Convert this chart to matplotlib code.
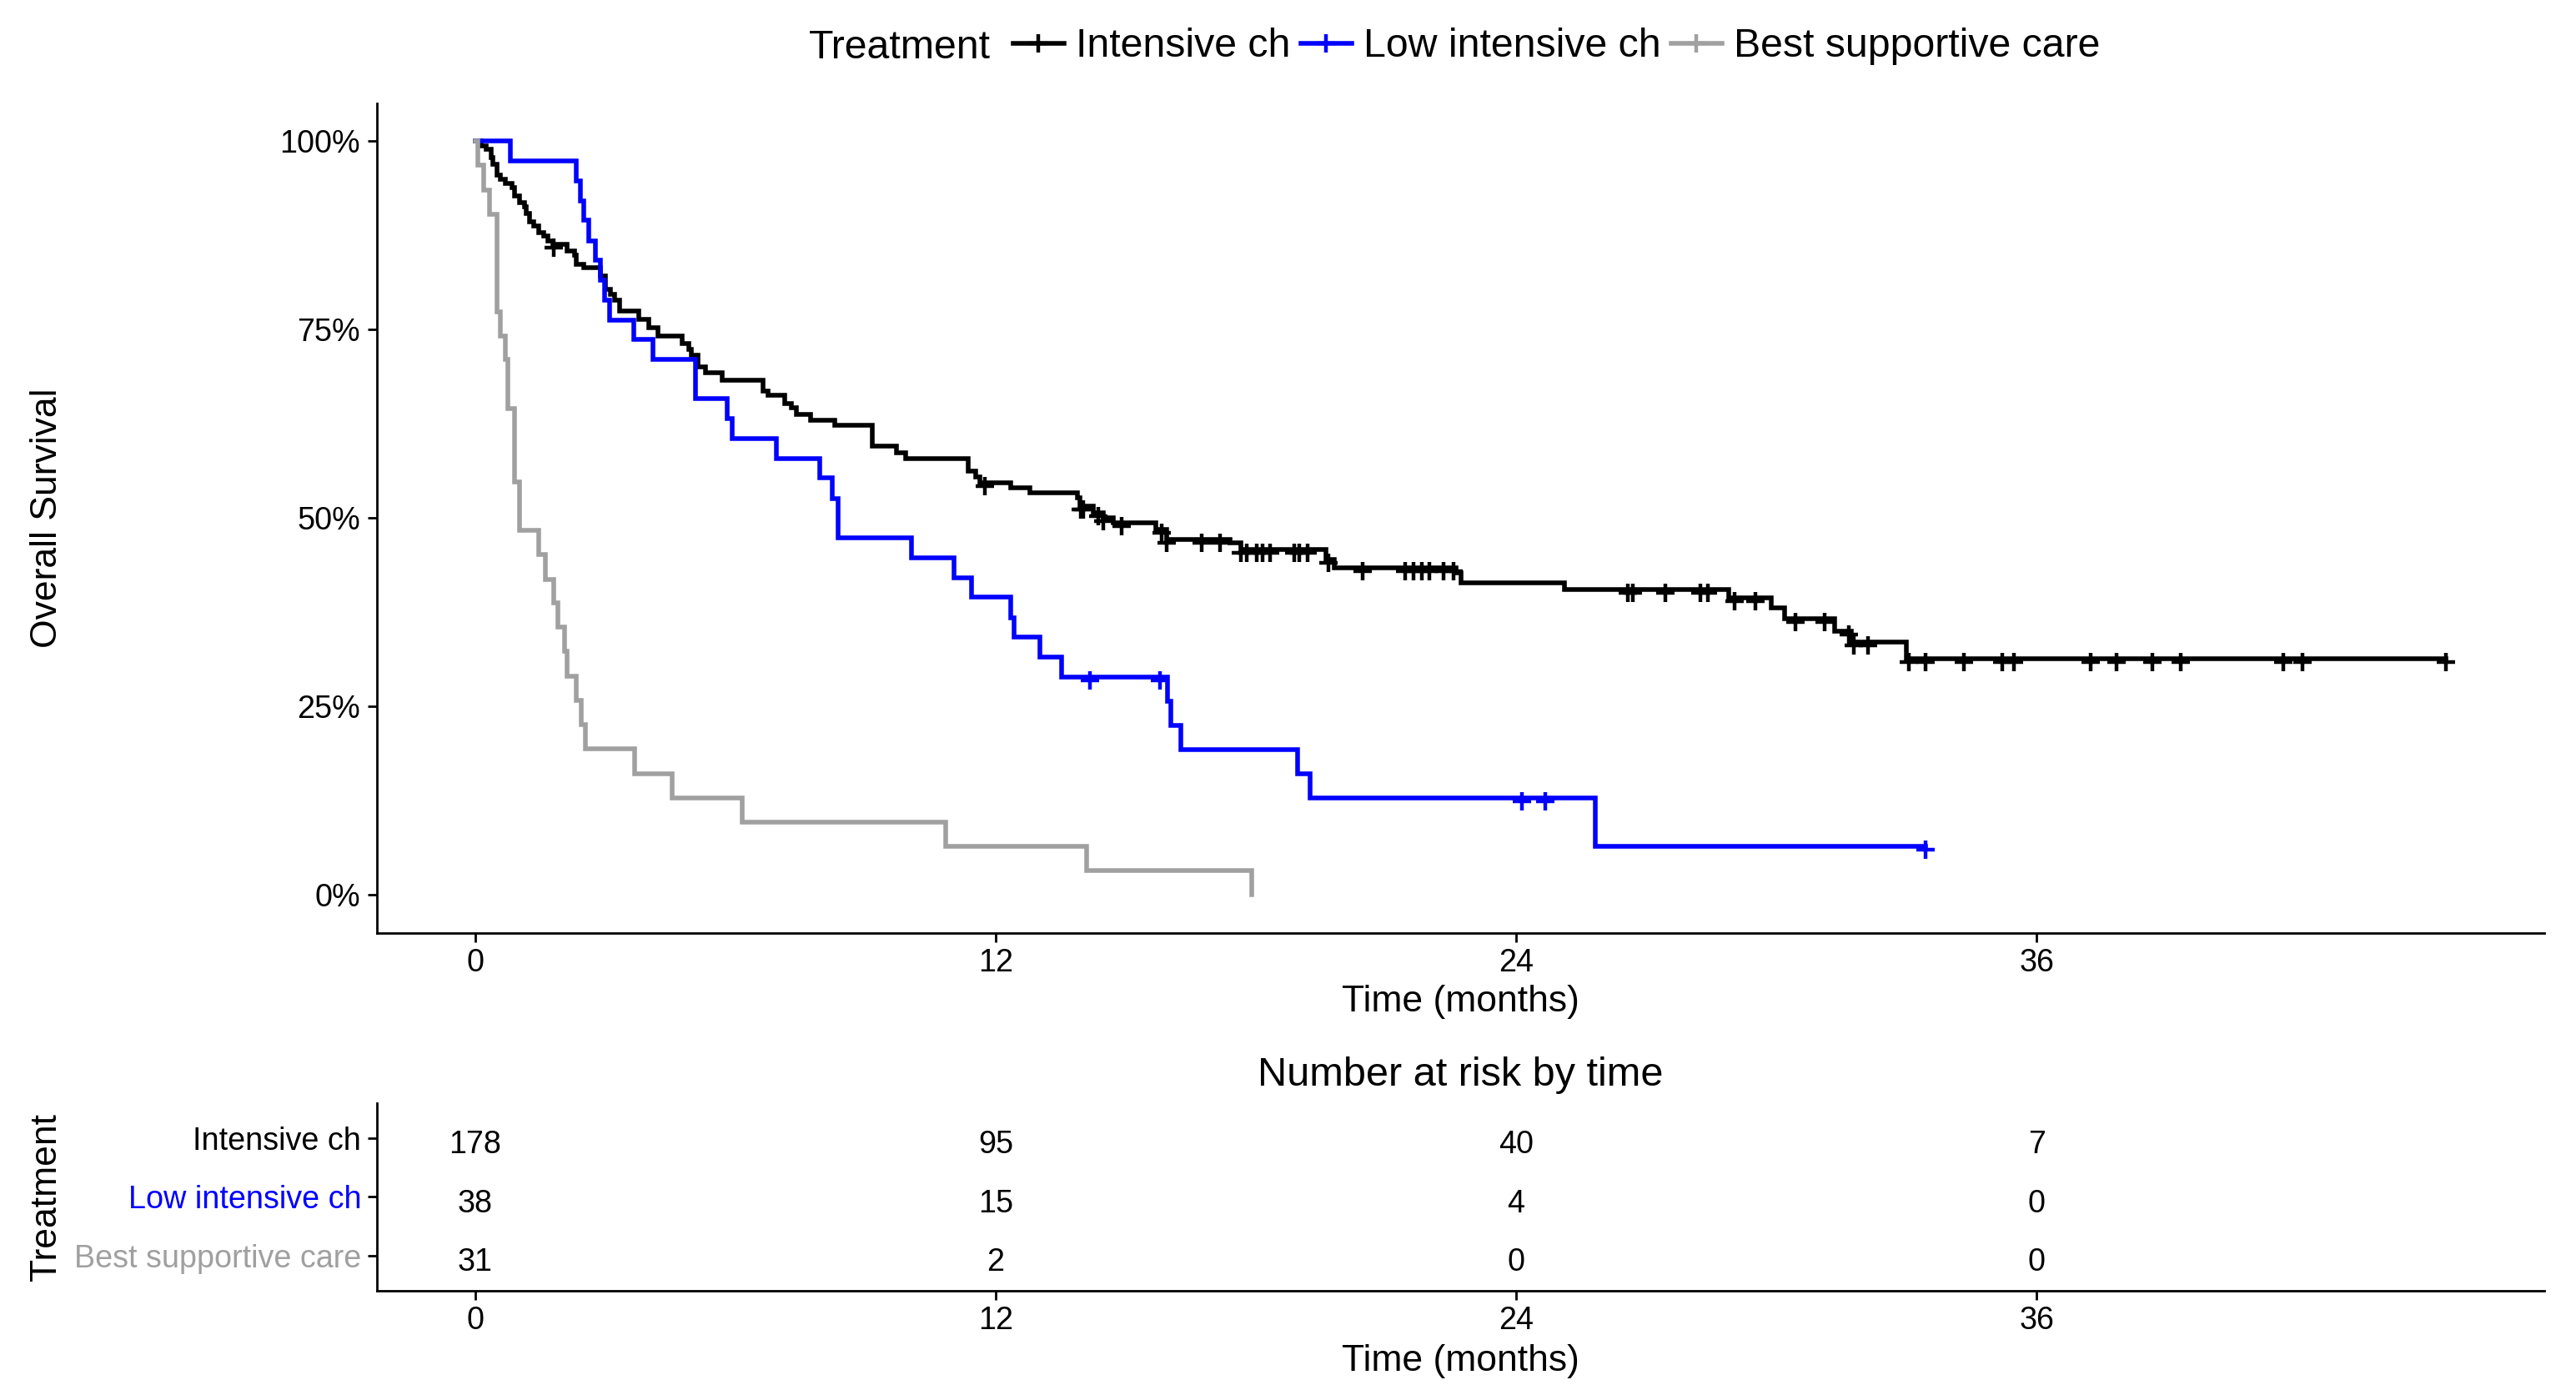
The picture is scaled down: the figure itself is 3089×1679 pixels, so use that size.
import numpy as np
import matplotlib
matplotlib.use("Agg")
import matplotlib.pyplot as plt
from matplotlib.lines import Line2D
from matplotlib.transforms import offset_copy, ScaledTranslation

plt.rcParams['font.family'] = ['Liberation Sans', 'DejaVu Sans']

# ---------------- data ----------------
groups = ["Intensive ch", "Low intensive ch", "Best supportive care"]
colors = ["#000000", "#0000FF", "#A0A0A0"]

# Intensive ch : event times (months) and survival after each event
ic_time = [0.14, 0.25, 0.36, 0.41, 0.49, 0.58, 0.69, 0.85, 0.91, 1.02, 1.13, 1.18,
           1.24, 1.35, 1.46, 1.57, 1.68, 1.79, 2.12, 2.28, 2.32, 2.50, 2.89, 3.00,
           3.11, 3.22, 3.33, 3.77, 3.99, 4.21, 4.76, 4.92, 4.98, 5.14, 5.31, 5.70,
           6.63, 6.74, 7.13, 7.29, 7.40, 7.73, 8.28, 9.16, 9.71, 9.93, 11.36, 11.53,
           11.64, 12.35, 12.79, 13.89, 13.95, 14.24, 14.48, 14.72, 15.70, 15.95,
           17.41, 17.66, 19.62, 19.80, 22.61, 22.73, 25.12, 28.90, 29.88, 30.19,
           31.35, 31.72, 32.99]
ic_surv = [0.994, 0.989, 0.978, 0.969, 0.955, 0.949, 0.944, 0.938, 0.927, 0.918, 0.913, 0.904,
           0.893, 0.887, 0.879, 0.874, 0.868, 0.863, 0.854, 0.849, 0.837, 0.832, 0.821, 0.803,
           0.797, 0.789, 0.775, 0.764, 0.753, 0.742, 0.731, 0.724, 0.716, 0.701, 0.693, 0.683,
           0.668, 0.663, 0.652, 0.646, 0.637, 0.630, 0.623, 0.596, 0.587, 0.579, 0.562, 0.555,
           0.547, 0.540, 0.533, 0.527, 0.516, 0.507, 0.500, 0.494, 0.485, 0.472,
           0.467, 0.458, 0.445, 0.434, 0.427, 0.414, 0.405, 0.394, 0.381, 0.366,
           0.350, 0.335, 0.313]
ic_cens = [1.80, 11.75, 13.97, 14.02, 14.36, 14.48, 14.91, 15.82, 15.95, 16.74, 17.17,
           17.66, 17.78, 18.02, 18.15, 18.33, 18.88, 19.00, 19.19, 19.68, 20.47, 21.45,
           21.63, 21.82, 22.00, 22.32, 22.55, 26.58, 26.70, 27.44, 28.24, 28.42, 29.03,
           29.52, 30.44, 31.11, 31.68, 31.78, 32.12, 33.06, 33.44, 34.32, 35.21, 35.48,
           37.24, 37.85, 38.67, 39.33, 41.70, 42.14, 45.44]

# Low intensive ch
lo_time = [0.80, 2.32, 2.43, 2.50, 2.61, 2.76, 2.89, 2.98, 3.09, 3.66, 4.10, 5.07,
           5.80, 5.92, 6.94, 7.95, 8.23, 8.37, 10.06, 11.03, 11.44, 12.35, 12.43,
           13.01, 13.51, 15.96, 16.04, 16.26, 18.97, 19.24, 25.83]
lo_surv = [0.974, 0.947, 0.921, 0.895, 0.868, 0.842, 0.816, 0.789, 0.763, 0.737, 0.711, 0.658,
           0.632, 0.605, 0.579, 0.553, 0.526, 0.474, 0.447, 0.421, 0.395, 0.368, 0.342,
           0.316, 0.289, 0.257, 0.225, 0.193, 0.161, 0.129, 0.064]
lo_cens = [14.17, 15.79, 24.14, 24.68, 33.44]

# Best supportive care
bs_time = [0.05, 0.19, 0.33, 0.49, 0.58, 0.69, 0.75, 0.91, 1.02, 1.46, 1.62, 1.81,
           1.90, 2.06, 2.12, 2.32, 2.45, 2.54, 3.68, 4.54, 6.16, 10.84, 14.10, 17.90]
bs_surv = [0.968, 0.935, 0.903, 0.774, 0.742, 0.710, 0.645, 0.548, 0.484, 0.452, 0.419, 0.387,
           0.355, 0.323, 0.290, 0.258, 0.226, 0.194, 0.161, 0.129, 0.097, 0.065, 0.032, 0.0]
bs_cens = []

# number at risk table
risk_times = [0, 12, 24, 36]
risk_ic = [178, 95, 40, 7]
risk_lo = [38, 15, 4, 0]
risk_bs = [31, 2, 0, 0]

x_ticks = [0, 12, 24, 36]
y_ticks = [0, 0.25, 0.5, 0.75, 1.0]
y_ticklabels = ["0%", "25%", "50%", "75%", "100%"]

# ---------------- figure ----------------
W, H = 3089, 1679
DPI = 200
fig = plt.figure(figsize=(W / DPI, H / DPI), dpi=DPI)

LW = 2.0
MS = 8
MEW = 1.6
TICK = 13.6
XMIN, XMAX = -2.27, 47.71

def fx(px):
    return px / W

def fy(py):
    return 1 - py / H

left, right = 452, 3051
top1, bot1 = 124.1, 1118.5
ax = fig.add_axes([fx(left), fy(bot1), fx(right - left), (bot1 - top1) / H])

cens_tr = offset_copy(ax.transData, fig=fig, x=0, y=-1.4, units='points')
series = [(ic_time, ic_surv, ic_cens), (lo_time, lo_surv, lo_cens), (bs_time, bs_surv, bs_cens)]
for (t, s, c), col in zip(series, colors):
    tt = np.array([0.0] + list(t))
    ss = np.array([1.0] + list(s))
    end = max(tt[-1], max(c) if c else tt[-1])
    tx = np.append(tt, end)
    sx = np.append(ss, ss[-1])
    ax.step(tx, sx, where='post', color=col, lw=LW, solid_joinstyle='miter')
    if c:
        cc = np.array(c)
        idx = np.searchsorted(tt, cc, side='right') - 1
        ax.plot(cc, ss[idx], ls='none', marker='+', color=col, ms=MS, mew=MEW,
                transform=cens_tr)

ax.set_xlim(XMIN, XMAX)
ax.set_ylim(-0.05, 1.05)
ax.set_xticks(x_ticks)
ax.set_yticks(y_ticks)
ax.set_yticklabels(y_ticklabels)
for sp in ['top', 'right']:
    ax.spines[sp].set_visible(False)
for sp in ['left', 'bottom']:
    ax.spines[sp].set_linewidth(1.0)
ax.tick_params(axis='both', direction='out', length=3.85, width=1.0, labelsize=TICK,
               colors='black')
ax.tick_params(axis='y', pad=3.3)
ax.tick_params(axis='x', pad=2.8)
ax.set_xlabel("Time (months)", fontsize=16, labelpad=3)

fig.text(fx(57), fy(621.3), "Overall Survival", rotation=90, ha='center', va='center', fontsize=16)

# legend
fig.text(fx(970), fy(57), "Treatment", ha='left', va='center', fontsize=17.4)
handles = [Line2D([], [], color=c, lw=LW, marker='+', ms=MS, mew=MEW) for c in colors]
fig.legend(handles, groups, loc='center left', bbox_to_anchor=(fx(1215), fy(56)),
           ncol=3, frameon=False, fontsize=17.4, handlelength=1.26, handletextpad=0.3,
           columnspacing=0.25, borderpad=0, borderaxespad=0)

# risk table
top2, bot2 = 1322.8, 1547.9
ax2 = fig.add_axes([fx(left), fy(bot2), fx(right - left), (bot2 - top2) / H])
ax2.set_xlim(XMIN, XMAX)
ax2.set_ylim(0.4, 3.6)
rows = [risk_ic, risk_lo, risk_bs]
ypos = [3, 2, 1]
num_tr = offset_copy(ax2.transData, fig=fig, x=0, y=-6.6, units='points')
for r, yv in zip(rows, ypos):
    for t, n in zip(risk_times, r):
        ax2.text(t, yv, str(n), ha='center', va='baseline', fontsize=TICK, color='black',
                 transform=num_tr)
ax2.set_xticks(x_ticks)
ax2.set_yticks(ypos)
ax2.set_yticklabels(groups)
shift = ScaledTranslation(0, -5 / DPI, fig.dpi_scale_trans)
for lab, col in zip(ax2.get_yticklabels(), colors):
    lab.set_color(col)
    lab.set_transform(lab.get_transform() + shift)
for sp in ['top', 'right']:
    ax2.spines[sp].set_visible(False)
for sp in ['left', 'bottom']:
    ax2.spines[sp].set_linewidth(1.0)
ax2.tick_params(axis='both', direction='out', length=3.85, width=1.0, labelsize=TICK)
ax2.tick_params(axis='y', pad=2.9)
ax2.tick_params(axis='x', pad=2.8, colors='black')
ax2.set_xlabel("Time (months)", fontsize=16, labelpad=3.5)
fig.text(fx((left + right) / 2), fy(1290), "Number at risk by time", ha='center', va='center',
         fontsize=17.5)
fig.text(fx(56), fy(1435), "Treatment", rotation=90, ha='center', va='center', fontsize=16)

fig.savefig("out.png", dpi=DPI, facecolor='white')
